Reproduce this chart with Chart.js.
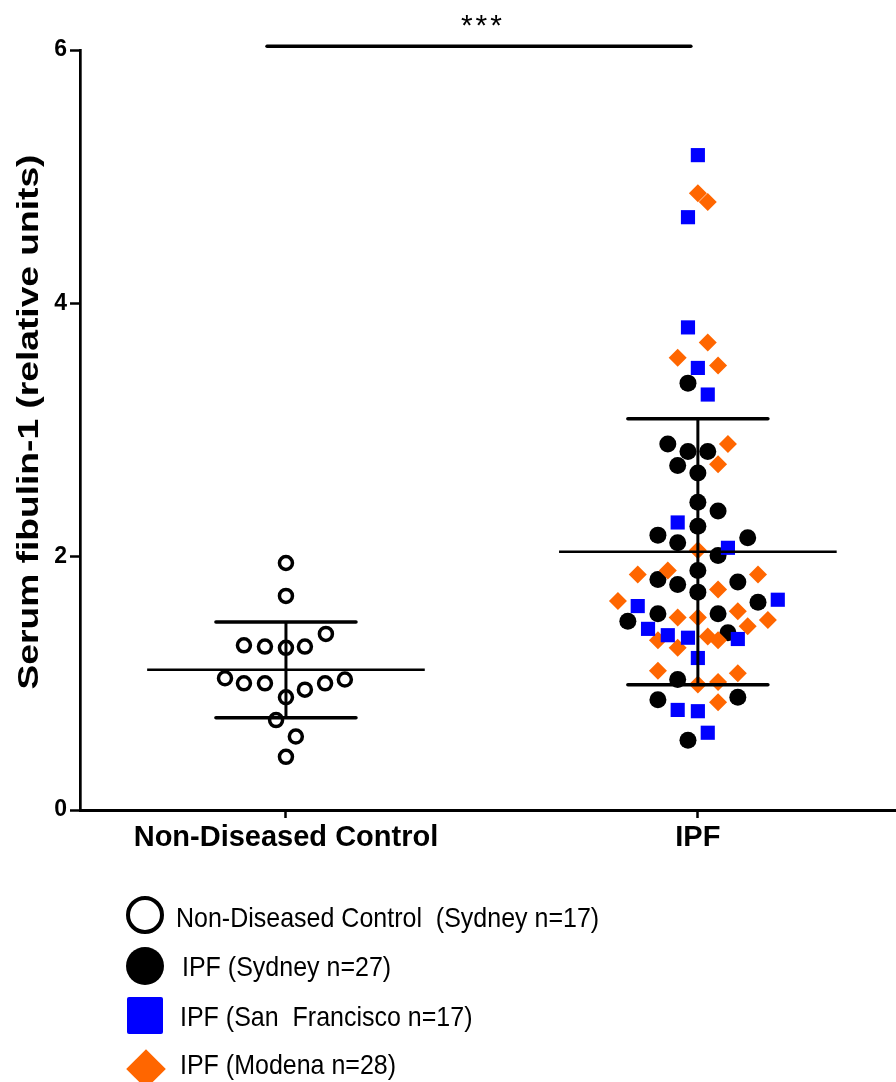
<!DOCTYPE html>
<html>
<head>
<meta charset="utf-8">
<script src="https://cdn.jsdelivr.net/npm/chart.js@4.4.1/dist/chart.umd.min.js"></script>
<style>
    body { margin: 0; background: #fff; }
    #wrap { position: relative; width: 896px; height: 1082px; overflow: hidden; }
    #chart { position: absolute; left: 0; top: 0; }
    .mark { position: absolute; box-sizing: border-box; }
    .lg-text {
        position: absolute;
        font: 25px "Liberation Sans", Arial, sans-serif;
        line-height: 25px;
        white-space: pre;
        color: #000;
        transform: scaleY(1.12);
        transform-origin: left center;
    }
</style>
</head>
<body>
<div id="wrap">
    <canvas id="chart" width="896" height="1082"></canvas>
    <div id="legend"></div>
</div>
<script>
/* ======================================================
   DATA
====================================================== */
const categories = ['Non-Diseased Control', 'IPF'];
const yTicks = [0, 2, 4, 6];
const yTitle = 'Serum fibulin-1 (relative units)';

// Non-diseased control, Sydney (x = jittered position around category 1)
const controlX = [1.000, 1.000, 1.097, 0.898, 0.949, 1.000, 1.046, 0.852, 0.898,
                  0.949, 1.000, 1.046, 1.095, 1.143, 0.976, 1.024, 1.000];
const controlY = [1.95, 1.69, 1.39, 1.30, 1.29, 1.28, 1.29, 1.04, 1.00,
                  1.00, 0.89, 0.95, 1.00, 1.03, 0.71, 0.58, 0.42];

// IPF Sydney
const sydneyX = [1.976, 1.927, 1.976, 2.024, 1.951, 2.000, 2.000, 2.049, 2.000,
                 1.903, 2.121, 1.951, 2.049, 2.000, 1.903, 2.097, 1.951, 2.000,
                 2.146, 1.903, 2.049, 1.830, 2.073, 1.951, 2.097, 1.903, 1.976];
const sydneyY = [3.37, 2.89, 2.83, 2.83, 2.72, 2.66, 2.43, 2.36, 2.24,
                 2.17, 2.15, 2.11, 2.01, 1.89, 1.82, 1.80, 1.78, 1.72,
                 1.64, 1.55, 1.55, 1.49, 1.40, 1.03, 0.89, 0.87, 0.55];

// IPF San Francisco
const sfX = [2.000, 1.976, 1.976, 2.000, 2.024, 1.951, 2.073, 1.854, 2.194,
             1.879, 1.927, 1.976, 2.097, 2.000, 1.951, 2.000, 2.024];
const sfY = [5.17, 4.68, 3.81, 3.49, 3.28, 2.27, 2.07, 1.61, 1.66,
             1.43, 1.38, 1.36, 1.35, 1.20, 0.79, 0.78, 0.61];

// IPF Modena
const modenaX = [2.000, 2.024, 2.024, 1.951, 2.049, 2.073, 2.049, 2.000, 1.927,
                 1.854, 2.146, 2.049, 1.806, 2.097, 1.951, 2.000, 2.170, 2.121,
                 2.024, 2.049, 1.903, 1.951, 1.903, 2.097, 2.049, 2.000, 2.049];
const modenaY = [4.87, 4.80, 3.69, 3.57, 3.51, 2.89, 2.73, 2.05, 1.89,
                 1.86, 1.86, 1.74, 1.65, 1.57, 1.52, 1.52, 1.50, 1.45,
                 1.37, 1.34, 1.34, 1.28, 1.10, 1.08, 1.01, 0.99, 0.85];

const legendLabels = [
    'Non-Diseased Control  (Sydney n=17)',
    'IPF (Sydney n=27)',
    'IPF (San  Francisco n=17)',
    'IPF (Modena n=28)'
];

// significance bracket between the two groups
const sigBar = { from: 0.954, to: 1.983, y: 6.03, label: '***' };

/* ======================================================
   HELPERS
====================================================== */
const FONT = '"Liberation Sans", Arial, Helvetica, sans-serif';

const pts = (xs, ys) => ys.map((v, i) => ({ x: xs[i], y: v }));

function meanSd(vals) {
    const m = vals.reduce((a, b) => a + b, 0) / vals.length;
    const v = vals.reduce((a, b) => a + (b - m) * (b - m), 0) / (vals.length - 1);
    return { m, sd: Math.sqrt(v) };
}

function seg(x1, y1, x2, y2, w, cap) {
    return {
        type: 'line',
        data: [{ x: x1, y: y1 }, { x: x2, y: y2 }],
        borderColor: '#000',
        borderWidth: w,
        borderCapStyle: cap || 'butt',
        pointRadius: 0,
        showLine: true,
        fill: false,
        clip: false,
        order: 0
    };
}

function statLines(center, vals) {
    const { m, sd } = meanSd(vals);
    return [
        seg(center - 0.337, m, center + 0.337, m, 2.5),
        seg(center - 0.17, m + sd, center + 0.17, m + sd, 3.5, 'round'),
        seg(center - 0.17, m - sd, center + 0.17, m - sd, 3.5, 'round'),
        seg(center, m - sd, center, m + sd, 3)
    ];
}

/* ======================================================
   EXTRA TEXT (stretched y title + stars)
====================================================== */
const extraText = {
    id: 'extraText',
    afterDraw(chart) {
        const { ctx, scales: { x, y } } = chart;

        ctx.save();
        ctx.fillStyle = '#000';
        ctx.font = `bold 30px ${FONT}`;
        ctx.textAlign = 'center';
        ctx.textBaseline = 'middle';
        ctx.translate(30, 422);
        ctx.rotate(-Math.PI / 2);
        const w = ctx.measureText(yTitle).width;
        ctx.scale(535 / w, 1);
        ctx.fillText(yTitle, 0, 0);
        ctx.restore();

        ctx.save();
        ctx.fillStyle = '#000';
        ctx.font = `30px ${FONT}`;
        ctx.letterSpacing = '3px';
        ctx.textAlign = 'center';
        ctx.textBaseline = 'alphabetic';
        ctx.fillText(
            sigBar.label,
            x.getPixelForValue((sigBar.from + sigBar.to) / 2) + 4,
            y.getPixelForValue(sigBar.y) - 11
        );
        ctx.restore();
    }
};

/* ======================================================
   CHART
====================================================== */
const ipfAll = [...sydneyY, ...sfY, ...modenaY];

new Chart(document.getElementById('chart'), {
    type: 'scatter',
    data: {
        datasets: [
            {
                data: pts(controlX, controlY),
                pointStyle: 'circle',
                pointRadius: 6.5,
                pointBorderWidth: 3.5,
                pointBorderColor: '#000',
                pointBackgroundColor: '#fff',
                order: 4
            },
            {
                data: pts(sydneyX, sydneyY),
                pointStyle: 'circle',
                pointRadius: 8.5,
                pointBorderWidth: 0,
                pointBackgroundColor: '#000',
                order: 3
            },
            {
                data: pts(modenaX, modenaY),
                pointStyle: 'rectRot',
                pointRadius: 9,
                pointBorderWidth: 0,
                pointBackgroundColor: '#ff6600',
                order: 2
            },
            {
                data: pts(sfX, sfY),
                pointStyle: 'rect',
                pointRadius: 10,
                pointBorderWidth: 0,
                pointBackgroundColor: '#0000ff',
                order: 1
            },
            ...statLines(1, controlY),
            ...statLines(2, ipfAll),
            seg(sigBar.from, sigBar.y, sigBar.to, sigBar.y, 3.5, 'round')
        ]
    },
    options: {
        responsive: false,
        animation: false,
        devicePixelRatio: 1,
        layout: {
            autoPadding: false,
            padding: { top: 50, left: 0, right: 0, bottom: 0 }
        },
        plugins: {
            legend: { display: false },
            tooltip: { enabled: false }
        },
        scales: {
            x: {
                type: 'linear',
                min: 0.5,
                max: 2.481,
                afterFit: s => { s.height = 272; },
                afterBuildTicks: s => { s.ticks = categories.map((c, i) => ({ value: i + 1 })); },
                ticks: {
                    callback: v => categories[v - 1],
                    autoSkip: false,
                    maxRotation: 0,
                    padding: 3,
                    color: '#000',
                    font: { family: FONT, size: 29, weight: 'bold' }
                },
                grid: {
                    drawOnChartArea: false,
                    tickLength: 8,
                    tickWidth: 2.5,
                    tickColor: '#000'
                },
                border: { color: '#000', width: 3 }
            },
            y: {
                min: 0,
                max: 6,
                afterFit: s => { s.width = 80; },
                afterBuildTicks: s => { s.ticks = yTicks.map(v => ({ value: v })); },
                ticks: {
                    padding: 3,
                    color: '#000',
                    font: { family: FONT, size: 23, weight: 'bold' }
                },
                grid: {
                    drawOnChartArea: false,
                    tickLength: 10,
                    tickWidth: 2.5,
                    tickColor: '#000'
                },
                border: { color: '#000', width: 2.7 }
            }
        }
    },
    plugins: [extraText]
});

/* ======================================================
   LEGEND (HTML, below the plot)
====================================================== */
const markStyles = [
    'left:126px;top:896px;width:38px;height:38px;border:4px solid #000;border-radius:50%;background:#fff;',
    'left:126px;top:947px;width:38px;height:38px;border-radius:50%;background:#000;',
    'left:127px;top:997px;width:36px;height:37px;border-radius:2px;background:#0000ff;',
    'left:132px;top:1055px;width:28px;height:28px;background:#ff6600;transform:rotate(45deg);'
];
const textPos = [[176, 905], [182, 954], [180, 1004], [180, 1052]];

const legendEl = document.getElementById('legend');
legendLabels.forEach((label, i) => {
    const m = document.createElement('div');
    m.className = 'mark';
    m.style.cssText = markStyles[i];
    legendEl.appendChild(m);

    const t = document.createElement('div');
    t.className = 'lg-text';
    t.style.left = textPos[i][0] + 'px';
    t.style.top = textPos[i][1] + 'px';
    t.textContent = label;
    legendEl.appendChild(t);
});
</script>
</body>
</html>
